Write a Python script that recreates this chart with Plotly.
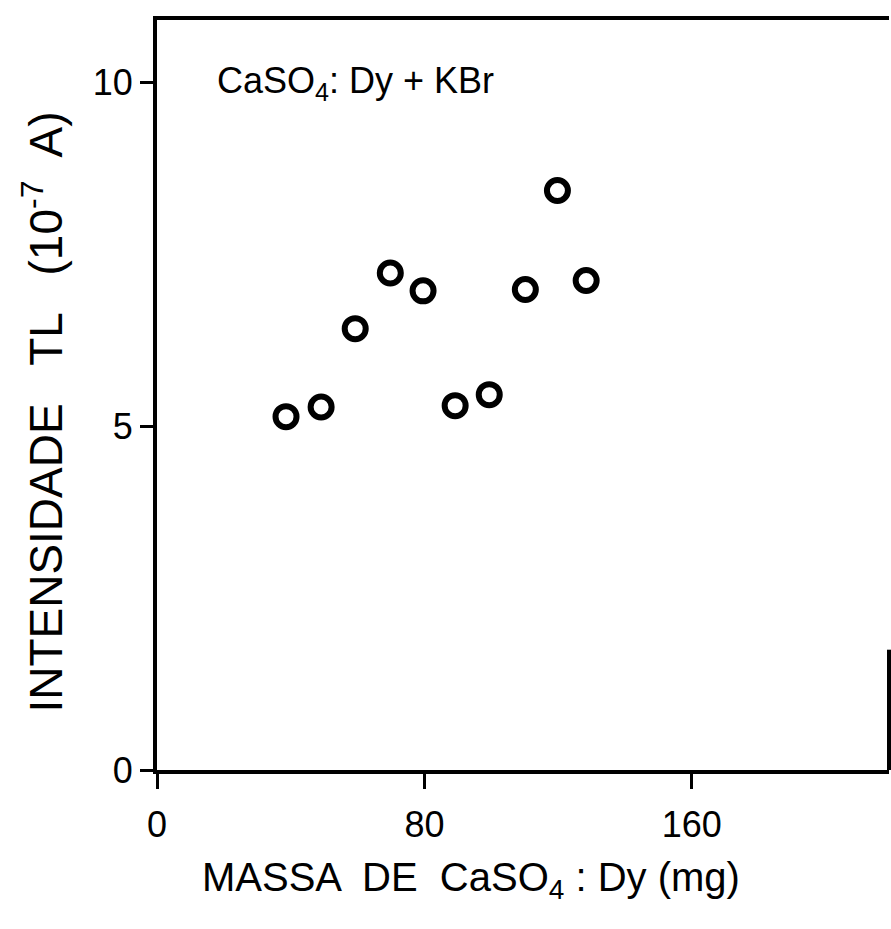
import plotly.graph_objects as go

# Data
massa_mg = [38.6, 49.1, 59.3, 69.8, 79.6, 89.2, 99.4, 110.2, 119.8, 128.4]
intensidade_tl = [5.14, 5.28, 6.42, 7.23, 6.97, 5.30, 5.46, 6.99, 8.43, 7.12]

x_ticks = [0, 80, 160]
y_ticks = [0, 5, 10]

FONT = "Liberation Sans"

fig = go.Figure()
fig.add_trace(go.Scatter(
    x=massa_mg, y=intensidade_tl, mode="markers",
    marker=dict(symbol="circle", size=21, color="white",
                line=dict(color="black", width=6)),
    showlegend=False, cliponaxis=False,
))

fig.update_layout(
    width=891, height=929,
    margin=dict(l=157, r=2, t=20, b=159),
    paper_bgcolor="white", plot_bgcolor="white",
    font=dict(family=FONT, color="black"),
    xaxis=dict(
        range=[0, 219], tickvals=x_ticks, ticktext=[str(v) for v in x_ticks],
        showgrid=False, zeroline=False, showline=True, linecolor="black",
        linewidth=4, mirror=True, ticks="outside", ticklen=15, tickwidth=3,
        tickcolor="black", tickfont=dict(size=36, family=FONT),
        ticklabelstandoff=5,
    ),
    yaxis=dict(
        range=[0, 10.91], tickvals=y_ticks, ticktext=[str(v) for v in y_ticks],
        showgrid=False, zeroline=False, showline=True, linecolor="black",
        linewidth=4, mirror=False, ticks="outside", ticklen=13, tickwidth=3,
        tickcolor="black", tickfont=dict(size=36, family=FONT),
    ),
    shapes=[dict(type="line", xref="paper", yref="y", x0=1, x1=1,
                 y0=0, y1=1.75, line=dict(color="black", width=4))],
    annotations=[
        dict(text="CaSO<sub>4</sub>: Dy + KBr", xref="x", yref="y",
             x=17.5, y=10.0, xanchor="left", yanchor="middle",
             showarrow=False, font=dict(size=36, family=FONT)),
        dict(text="MASSA  DE  CaSO<sub>4</sub> : Dy (mg)", xref="x", yref="paper",
             x=94, y=-0.147, xanchor="center", yanchor="middle",
             showarrow=False, font=dict(size=40, family=FONT)),
        dict(text="INTENSIDADE   TL   (10<sup>-7</sup>  A)", xref="paper", yref="y",
             x=-0.157, y=5.2, xanchor="center", yanchor="middle", textangle=-90,
             showarrow=False, font=dict(size=46, family=FONT)),
    ],
)

fig.write_html("out.html")
